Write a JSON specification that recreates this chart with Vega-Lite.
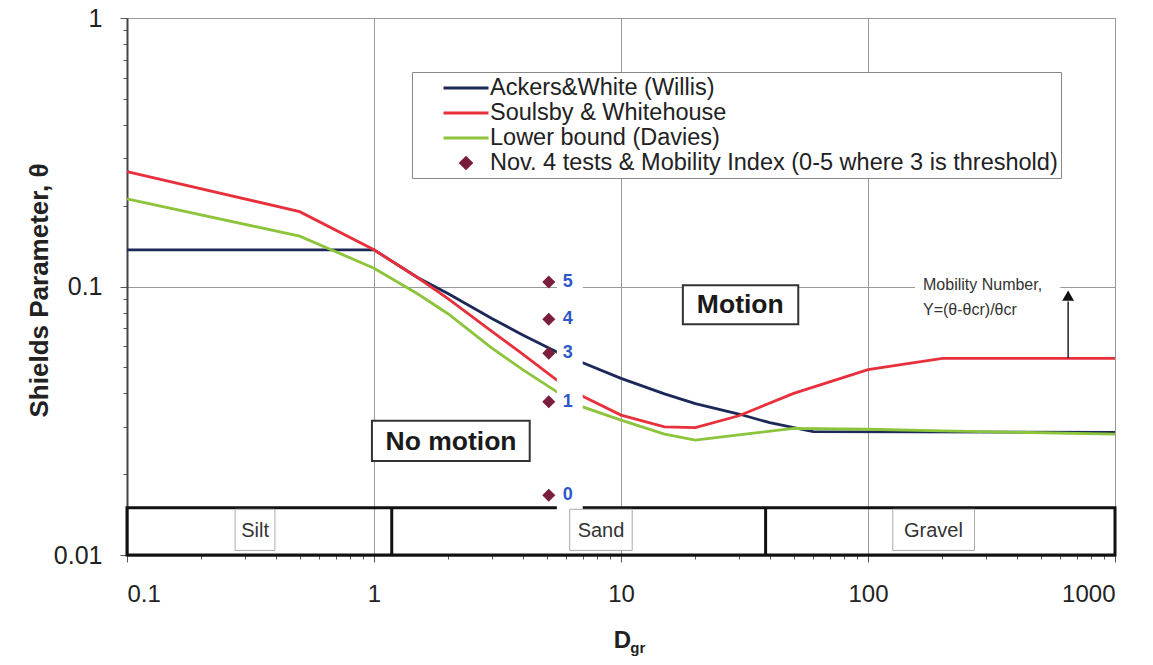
{
  "$schema": "https://vega.github.io/schema/vega-lite/v6.json",
  "width": 988,
  "height": 537,
  "autosize": {"type": "none"},
  "padding": {"left": 127, "top": 18, "right": 38, "bottom": 110},
  "background": "white",
  "config": {
    "font": "Liberation Sans",
    "view": {"stroke": "#888", "strokeWidth": 1}
  },
  "datasets": {
    "curves": [
      {"series": "Ackers&White (Willis)", "D": 0.1, "theta": 0.137},
      {"series": "Ackers&White (Willis)", "D": 1, "theta": 0.137},
      {"series": "Ackers&White (Willis)", "D": 1.5, "theta": 0.108},
      {"series": "Ackers&White (Willis)", "D": 2, "theta": 0.094},
      {"series": "Ackers&White (Willis)", "D": 3, "theta": 0.076},
      {"series": "Ackers&White (Willis)", "D": 4, "theta": 0.066},
      {"series": "Ackers&White (Willis)", "D": 5.5, "theta": 0.057},
      {"series": "Ackers&White (Willis)", "D": 7, "theta": 0.052},
      {"series": "Ackers&White (Willis)", "D": 10, "theta": 0.0455},
      {"series": "Ackers&White (Willis)", "D": 15, "theta": 0.0398},
      {"series": "Ackers&White (Willis)", "D": 20, "theta": 0.0366},
      {"series": "Ackers&White (Willis)", "D": 30, "theta": 0.0335},
      {"series": "Ackers&White (Willis)", "D": 40, "theta": 0.0311},
      {"series": "Ackers&White (Willis)", "D": 60, "theta": 0.0288},
      {"series": "Ackers&White (Willis)", "D": 1000, "theta": 0.0286},
      {"series": "Soulsby & Whitehouse", "D": 0.1, "theta": 0.268},
      {"series": "Soulsby & Whitehouse", "D": 0.5, "theta": 0.19},
      {"series": "Soulsby & Whitehouse", "D": 1, "theta": 0.137},
      {"series": "Soulsby & Whitehouse", "D": 1.5, "theta": 0.108},
      {"series": "Soulsby & Whitehouse", "D": 2, "theta": 0.09},
      {"series": "Soulsby & Whitehouse", "D": 3, "theta": 0.068},
      {"series": "Soulsby & Whitehouse", "D": 4, "theta": 0.056},
      {"series": "Soulsby & Whitehouse", "D": 5.5, "theta": 0.0448},
      {"series": "Soulsby & Whitehouse", "D": 7, "theta": 0.039},
      {"series": "Soulsby & Whitehouse", "D": 10, "theta": 0.0332},
      {"series": "Soulsby & Whitehouse", "D": 15, "theta": 0.03},
      {"series": "Soulsby & Whitehouse", "D": 20, "theta": 0.0298},
      {"series": "Soulsby & Whitehouse", "D": 30, "theta": 0.033},
      {"series": "Soulsby & Whitehouse", "D": 50, "theta": 0.04},
      {"series": "Soulsby & Whitehouse", "D": 100, "theta": 0.049},
      {"series": "Soulsby & Whitehouse", "D": 200, "theta": 0.054},
      {"series": "Soulsby & Whitehouse", "D": 1000, "theta": 0.054},
      {"series": "Lower bound (Davies)", "D": 0.1, "theta": 0.212},
      {"series": "Lower bound (Davies)", "D": 0.5, "theta": 0.154},
      {"series": "Lower bound (Davies)", "D": 1, "theta": 0.117},
      {"series": "Lower bound (Davies)", "D": 1.5, "theta": 0.094},
      {"series": "Lower bound (Davies)", "D": 2, "theta": 0.079},
      {"series": "Lower bound (Davies)", "D": 3, "theta": 0.059},
      {"series": "Lower bound (Davies)", "D": 4, "theta": 0.049},
      {"series": "Lower bound (Davies)", "D": 5.5, "theta": 0.0405},
      {"series": "Lower bound (Davies)", "D": 7, "theta": 0.0356},
      {"series": "Lower bound (Davies)", "D": 10, "theta": 0.0318},
      {"series": "Lower bound (Davies)", "D": 15, "theta": 0.0282},
      {"series": "Lower bound (Davies)", "D": 20, "theta": 0.0268},
      {"series": "Lower bound (Davies)", "D": 30, "theta": 0.028},
      {"series": "Lower bound (Davies)", "D": 50, "theta": 0.0296},
      {"series": "Lower bound (Davies)", "D": 100, "theta": 0.0294},
      {"series": "Lower bound (Davies)", "D": 200, "theta": 0.029},
      {"series": "Lower bound (Davies)", "D": 1000, "theta": 0.0282}
    ],
    "tests": [
      {"D": 5.1, "theta": 0.104, "index": "5"},
      {"D": 5.1, "theta": 0.0755, "index": "4"},
      {"D": 5.1, "theta": 0.0564, "index": "3"},
      {"D": 5.1, "theta": 0.0372, "index": "1"},
      {"D": 5.1, "theta": 0.0167, "index": "0"}
    ],
    "band": [{"x1": 0.1, "x2": 1000, "y1": 0.01, "y2": 0.015}],
    "dividers": [{"D": 1.18, "y1": 0.01, "y2": 0.015}, {"D": 38.5, "y1": 0.01, "y2": 0.015}],
    "regions": [
      {"name": "Motion", "D": 30.4, "theta": 0.0852, "x1": 17.8, "x2": 52.2, "y1": 0.0724, "y2": 0.101},
      {"name": "No motion", "D": 2.05, "theta": 0.0264, "x1": 0.981, "x2": 4.27, "y1": 0.0224, "y2": 0.0316}
    ],
    "masks": [
      {"x1": 5.5, "x2": 7.0, "y1": 0.0312, "y2": 0.1233},
      {"x1": 5.5, "x2": 7.0, "y1": 0.0141, "y2": 0.0191},
      {"x1": 155, "x2": 600, "y1": 0.076, "y2": 0.108}
    ],
    "zones": [
      {"name": "Silt", "D": 0.33, "theta": 0.0123, "x1": 0.274, "x2": 0.397, "y1": 0.0104, "y2": 0.0148},
      {"name": "Sand", "D": 8.3, "theta": 0.0123, "x1": 6.2, "x2": 11.1, "y1": 0.0104, "y2": 0.0148},
      {"name": "Gravel", "D": 184, "theta": 0.0123, "x1": 126, "x2": 270, "y1": 0.0104, "y2": 0.0148}
    ],
    "arrow": [{"D": 646, "y1": 0.054, "y2": 0.088, "tip": 0.0925}],
    "notes": [
      {"text": "Mobility Number,", "D": 167, "theta": 0.1013},
      {"text": "Y=(θ-θcr)/θcr", "D": 167, "theta": 0.0817}
    ],
    "subscript": [{"text": "gr", "D": 10.9, "theta": 0.0045}]
  },
  "encoding": {
    "x": {"type": "quantitative", "scale": {"type": "log", "domain": [0.1, 1000], "nice": false}},
    "y": {"type": "quantitative", "scale": {"type": "log", "domain": [0.01, 1], "nice": false}}
  },
  "layer": [
    {
      "data": {"name": "curves"},
      "mark": {"type": "line", "strokeWidth": 2.8},
      "encoding": {
        "x": {
          "field": "D", "type": "quantitative",
          "scale": {"type": "log", "domain": [0.1, 1000], "nice": false},
          "axis": {
            "title": "D",
            "titleFontSize": 24, "titleFontWeight": "bold", "titleColor": "#222",
            "titleX": 495, "titleY": 85, "titleBaseline": "middle", "titleAlign": "center",
            "values": [0.1, 0.2, 0.3, 0.4, 0.5, 0.6, 0.7, 0.8, 0.9, 1, 2, 3, 4, 5, 6, 7, 8, 9, 10, 20, 30, 40, 50, 60, 70, 80, 90, 100, 200, 300, 400, 500, 600, 700, 800, 900, 1000],
            "format": "~g",
            "labelExpr": "abs(log(datum.value)/LN10 - round(log(datum.value)/LN10)) < 0.001 ? datum.label : ''",
            "labelFontSize": 24, "labelColor": "#222", "labelPadding": 20, "labelFlush": true, "labelOverlap": false,
            "grid": true, "gridColor": "#999", "gridWidth": 1,
            "gridOpacity": {"condition": {"test": "abs(log(datum.value)/LN10 - round(log(datum.value)/LN10)) < 0.001", "value": 1}, "value": 0},
            "tickColor": "#555",
            "tickSize": {"condition": {"test": "abs(log(datum.value)/LN10 - round(log(datum.value)/LN10)) < 0.001", "value": 7}, "value": 4},
            "domainColor": "#222", "domainWidth": 2
          }
        },
        "y": {
          "field": "theta", "type": "quantitative",
          "scale": {"type": "log", "domain": [0.01, 1], "nice": false},
          "axis": {
            "title": "Shields Parameter, θ",
            "titleFontSize": 26, "titleFontWeight": "bold", "titleColor": "#222",
            "titleX": -88, "titleY": 272, "titleBaseline": "middle", "titleAlign": "center",
            "values": [0.01, 0.02, 0.03, 0.04, 0.05, 0.06, 0.07, 0.08, 0.09, 0.1, 0.2, 0.3, 0.4, 0.5, 0.6, 0.7, 0.8, 0.9, 1],
            "format": "~g",
            "labelExpr": "abs(log(datum.value)/LN10 - round(log(datum.value)/LN10)) < 0.001 ? datum.label : ''",
            "labelFontSize": 25, "labelColor": "#222", "labelPadding": 18, "labelFlush": false, "labelOverlap": false,
            "grid": true, "gridColor": "#999", "gridWidth": 1,
            "gridOpacity": {"condition": {"test": "abs(log(datum.value)/LN10 - round(log(datum.value)/LN10)) < 0.001", "value": 1}, "value": 0},
            "tickColor": "#555",
            "tickSize": {"condition": {"test": "abs(log(datum.value)/LN10 - round(log(datum.value)/LN10)) < 0.001", "value": 7}, "value": 4},
            "domainColor": "#444", "domainWidth": 2
          }
        },
        "color": {
          "field": "series", "type": "nominal",
          "scale": {
            "domain": ["Ackers&White (Willis)", "Soulsby & Whitehouse", "Lower bound (Davies)", "Nov. 4 tests & Mobility Index (0-5 where 3 is threshold)"],
            "range": ["#1b2858", "#e8303c", "#8cc43c", "#7b1d3d"]
          },
          "legend": {
            "title": null,
            "orient": "none", "legendX": 285, "legendY": 54,
            "strokeColor": "#888", "fillColor": "white", "padding": 3,
            "symbolType": "M-2,0H2", "symbolSize": 506, "symbolStrokeWidth": 3, "symbolOffset": 38,
            "labelFontSize": 23.5, "labelColor": "#222", "labelOffset": 11, "rowPadding": -3, "labelLimit": 700,
            "encode": {"symbols": {"update": {
              "shape": {"signal": "datum.label == 'Nov. 4 tests & Mobility Index (0-5 where 3 is threshold)' ? 'diamond' : 'M-2,0H2'"},
              "size": {"signal": "datum.label == 'Nov. 4 tests & Mobility Index (0-5 where 3 is threshold)' ? 110 : 506"},
              "fill": {"signal": "datum.label == 'Nov. 4 tests & Mobility Index (0-5 where 3 is threshold)' ? '#7b1d3d' : 'transparent'"}
            }}}
          }
        }
      }
    },
    {
      "data": {"name": "band"},
      "mark": {"type": "rect", "fill": null, "fillOpacity": 0, "stroke": "#111", "strokeWidth": 3},
      "encoding": {"x": {"field": "x1"}, "x2": {"field": "x2"}, "y": {"field": "y1"}, "y2": {"field": "y2"}}
    },
    {
      "data": {"name": "dividers"},
      "mark": {"type": "rule", "stroke": "#111", "strokeWidth": 3},
      "encoding": {"x": {"field": "D"}, "y": {"field": "y1"}, "y2": {"field": "y2"}}
    },
    {
      "data": {"name": "regions"},
      "mark": {"type": "rect", "fill": "white", "stroke": "#333", "strokeWidth": 2},
      "encoding": {"x": {"field": "x1"}, "x2": {"field": "x2"}, "y": {"field": "y1"}, "y2": {"field": "y2"}}
    },
    {
      "data": {"name": "regions"},
      "mark": {"type": "text", "fontSize": 26.5, "fontWeight": "bold", "color": "#1a1a1a", "align": "center", "baseline": "middle"},
      "encoding": {"x": {"field": "D"}, "y": {"field": "theta"}, "text": {"field": "name"}}
    },
    {
      "data": {"name": "masks"},
      "mark": {"type": "rect", "fill": "white", "strokeWidth": 0},
      "encoding": {"x": {"field": "x1"}, "x2": {"field": "x2"}, "y": {"field": "y1"}, "y2": {"field": "y2"}}
    },
    {
      "data": {"name": "zones"},
      "mark": {"type": "rect", "fill": "white", "stroke": "#aaa", "strokeWidth": 1},
      "encoding": {"x": {"field": "x1"}, "x2": {"field": "x2"}, "y": {"field": "y1"}, "y2": {"field": "y2"}}
    },
    {
      "data": {"name": "zones"},
      "mark": {"type": "text", "fontSize": 20, "color": "#333", "align": "center", "baseline": "middle"},
      "encoding": {"x": {"field": "D"}, "y": {"field": "theta"}, "text": {"field": "name"}}
    },
    {
      "data": {"name": "arrow"},
      "mark": {"type": "rule", "stroke": "#222", "strokeWidth": 1.5},
      "encoding": {"x": {"field": "D"}, "y": {"field": "y1"}, "y2": {"field": "y2"}}
    },
    {
      "data": {"name": "arrow"},
      "mark": {"type": "point", "shape": "triangle-up", "filled": true, "color": "#111", "size": 140, "opacity": 1},
      "encoding": {"x": {"field": "D"}, "y": {"field": "tip"}}
    },
    {
      "data": {"name": "notes"},
      "mark": {"type": "text", "fontSize": 16, "color": "#333", "align": "left", "baseline": "middle"},
      "encoding": {"x": {"field": "D"}, "y": {"field": "theta"}, "text": {"field": "text"}}
    },
    {
      "data": {"name": "subscript"},
      "mark": {"type": "text", "fontSize": 15, "fontWeight": "bold", "color": "#222", "align": "left", "baseline": "middle"},
      "encoding": {"x": {"field": "D"}, "y": {"field": "theta"}, "text": {"field": "text"}}
    },
    {
      "data": {"name": "tests"},
      "mark": {"type": "point", "shape": "diamond", "filled": true, "color": "#7b1d3d", "size": 170, "opacity": 1},
      "encoding": {"x": {"field": "D"}, "y": {"field": "theta"}}
    },
    {
      "data": {"name": "tests"},
      "mark": {"type": "text", "fontSize": 18, "fontWeight": "bold", "color": "#2e57c9", "align": "left", "baseline": "middle", "dx": 14},
      "encoding": {"x": {"field": "D"}, "y": {"field": "theta"}, "text": {"field": "index"}}
    }
  ]
}
